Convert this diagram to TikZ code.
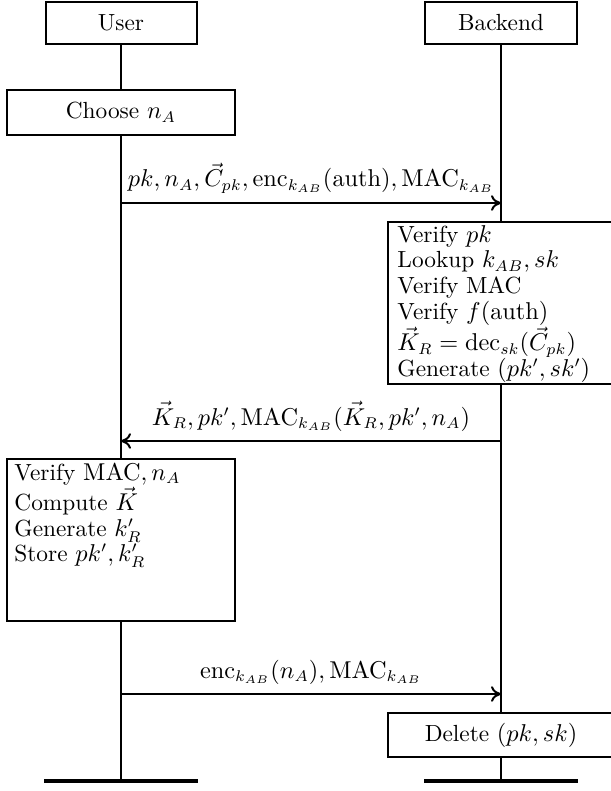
\documentclass[tikz,border=0pt]{standalone}
\usetikzlibrary{arrows.meta,backgrounds}
\begin{document}
\begin{tikzpicture}[x=0.45pt,y=-0.45pt,
  font=\fontsize{10.5}{11.5}\selectfont,
  box/.style={draw, line width=0.9pt, fill=white, inner sep=0pt},
  life/.style={line width=0.9pt},
  msg/.style={line width=0.9pt, -{To[length=4.5pt,width=7pt]}},
  lbl/.style={above, inner sep=4pt},
  bar/.style={line width=1.8pt},
  txt/.style={align=left, anchor=north west, inner sep=0pt}]
\useasboundingbox (0,0) rectangle (611,791);
% participants
\node[box, minimum width={151*0.45pt}, minimum height={42*0.45pt}] (user) at (121,23) {User};
\node[box, minimum width={152*0.45pt}, minimum height={42*0.45pt}] (backend) at (501,23) {Backend};
\coordinate (uend) at (121,781);
\coordinate (bend) at (501,781);
\coordinate (ubl) at (44,781);  \coordinate (ubr) at (198,781);
\coordinate (bbl) at (424,781); \coordinate (bbr) at (578,781);
% action boxes
\node[box, minimum width={228*0.45pt}, minimum height={45*0.45pt}] (choose) at (121,112.5) {Choose $n_A$};
\node[box, minimum width={227*0.45pt}, minimum height={162*0.45pt}] (verify) at (501,303) {};
\node[txt] (verifytext) at (397,225) {Verify $pk$\\ Lookup $k_{AB}, sk$\\ Verify MAC\\ Verify $f(\mathrm{auth})$\\ $\vec{K}_R = \mathrm{dec}_{sk}(\vec{C}_{pk})$\\ Generate $(pk', sk')$};
\node[box, minimum width={228*0.45pt}, minimum height={162*0.45pt}] (ucheck) at (121,540) {};
\node[txt] (uchecktext) at (14,463) {Verify $\mathrm{MAC}, n_A$\\ Compute $\vec{K}$\\ Generate $k'_R$\\ Store $pk', k'_R$};
\node[box, minimum width={227*0.45pt}, minimum height={44*0.45pt}] (delete) at (501,735) {Delete $(pk, sk)$};
% lifelines
\begin{scope}[on background layer]
\draw[life] (user) -- (uend);
\draw[life] (backend) -- (bend);
\end{scope}
\draw[bar] (ubl) -- (ubr);
\draw[bar] (bbl) -- (bbr);
% messages
\coordinate (u1) at (121,203); \coordinate (b1) at (501,203);
\coordinate (u2) at (121,441); \coordinate (b2) at (501,441);
\coordinate (u3) at (121,694); \coordinate (b3) at (501,694);
\draw[msg] (u1) -- node[lbl] (m1) {$pk, n_A, \vec{C}_{pk}, \mathrm{enc}_{k_{AB}}(\mathrm{auth}), \mathrm{MAC}_{k_{AB}}$} (b1);
\draw[msg] (b2) -- node[lbl] (m2) {$\vec{K}_R, pk', \mathrm{MAC}_{k_{AB}}(\vec{K}_R, pk', n_A)$} (u2);
\draw[msg] (u3) -- node[lbl] (m3) {$\mathrm{enc}_{k_{AB}}(n_A), \mathrm{MAC}_{k_{AB}}$} (b3);
\end{tikzpicture}
\end{document}
